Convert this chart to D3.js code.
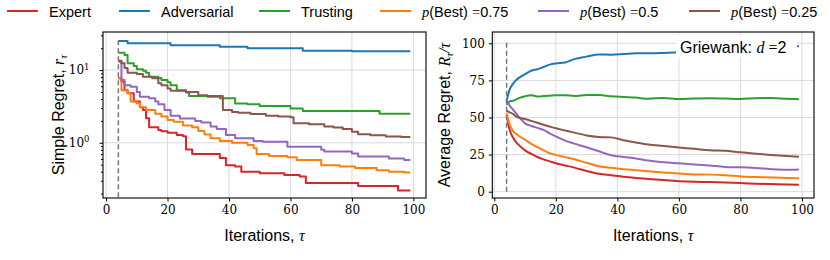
<!DOCTYPE html>
<html><head><meta charset="utf-8">
<script src="https://cdn.jsdelivr.net/npm/d3@7/dist/d3.min.js"></script>
<style>body{margin:0;background:#fff}</style>
</head><body>
<svg id="c" width="830" height="260"></svg>
<script>
// ---------- data ----------
const seriesNames = ["Expert", "Adversarial", "Trusting", "0.75", "0.5", "0.25"];
const seriesColors = ["#d62728", "#1f77b4", "#2ca02c", "#ff7f0e", "#9467bd", "#8c564b"];

// Simple regret (step series): iteration where a new best starts, and its value
const srExpertIt  = [4, 5, 6, 7, 9, 11, 12, 13, 14, 17, 18, 20, 23, 25, 26, 28, 37, 39, 42, 44, 50, 58, 63, 65, 82, 95, 99];
const srExpertVal = [7.7, 6.9, 5.3, 4.8, 3.7, 3.08, 2.82, 2.17, 1.64, 1.5, 1.44, 1.37, 1.28, 1.23, 0.81, 0.70, 0.62, 0.49, 0.47, 0.40, 0.38, 0.36, 0.345, 0.28, 0.255, 0.22, 0.22];
const srAdvIt     = [4, 7, 21, 37, 46, 64, 80, 99];
const srAdvVal    = [25.1, 23.3, 21.9, 21.0, 19.9, 18.5, 18.1, 18.1];
const srTrustIt   = [4, 6, 7, 9, 10, 12, 13, 14, 17, 18, 20, 21, 23, 26, 27, 33, 37, 42, 46, 50, 60, 64, 89, 99];
const srTrustVal  = [17.3, 16.1, 12.4, 11.4, 10.3, 9.8, 9.2, 8.1, 7.8, 7.3, 6.8, 6.2, 5.3, 4.9, 4.4, 4.3, 4.1, 3.48, 3.4, 3.2, 2.97, 2.73, 2.5, 2.5];
const srP75It     = [4, 5, 7, 8, 10, 11, 13, 16, 18, 20, 22, 25, 28, 30, 32, 34, 37, 41, 46, 48, 49, 53, 59, 62, 70, 76, 81, 88, 92, 97, 99];
const srP75Val    = [7.7, 5.3, 4.8, 3.7, 3.5, 3.08, 2.82, 2.5, 2.3, 2.05, 1.95, 1.73, 1.64, 1.45, 1.3, 1.15, 1.06, 1.0, 0.93, 0.84, 0.70, 0.66, 0.63, 0.58, 0.49, 0.47, 0.45, 0.42, 0.40, 0.39, 0.39];
const srP50It     = [4, 5, 6, 8, 10, 11, 14, 16, 17, 19, 21, 24, 29, 31, 34, 36, 39, 42, 48, 51, 59, 70, 71, 80, 82, 92, 97, 99];
const srP50Val    = [13.0, 7.3, 6.2, 5.9, 5.0, 4.3, 4.1, 3.7, 3.4, 2.82, 2.35, 2.15, 2.0, 1.9, 1.68, 1.55, 1.28, 1.15, 1.06, 1.03, 0.88, 0.80, 0.76, 0.715, 0.65, 0.61, 0.58, 0.58];
const srP25It     = [4, 5, 6, 7, 10, 12, 15, 17, 18, 20, 21, 26, 30, 33, 38, 41, 43, 47, 52, 56, 60, 61, 66, 71, 74, 77, 80, 82, 86, 91, 96, 99];
const srP25Val    = [13.4, 12.4, 10.7, 9.2, 8.8, 8.1, 7.7, 6.6, 6.2, 5.6, 5.2, 5.0, 4.5, 4.4, 2.82, 2.65, 2.58, 2.48, 2.36, 2.3, 2.24, 1.85, 1.8, 1.68, 1.62, 1.55, 1.42, 1.31, 1.27, 1.22, 1.2, 1.2];

// Average regret, sampled iterations
const arIter   = [4, 5, 6, 7, 8, 10, 12, 14, 16, 18, 20, 23, 26, 30, 34, 38, 42, 46, 50, 55, 60, 65, 70, 75, 80, 85, 90, 95, 99];
const arExpert = [51.7, 41.5, 36.8, 33.6, 31.4, 27.8, 25.5, 23.4, 21.8, 20.4, 19.2, 17.7, 16.2, 14.0, 12.1, 11.1, 10.1, 9.3, 8.6, 7.8, 7.1, 6.7, 6.5, 6.2, 5.8, 5.4, 5.1, 4.9, 4.7];
const arAdv    = [61, 69, 72.5, 75, 76.7, 79.2, 81.5, 82.5, 84, 85.6, 86.4, 87, 89.3, 91, 92.5, 92.3, 92.7, 93.2, 93.2, 93.5, 93.9, 94.5, 95, 95.5, 96, 96.6, 97.1, 97.6, 98];
const arTrust  = [58.5, 60.8, 61.2, 62, 63, 64.3, 65, 64.2, 64.4, 64.7, 65, 65, 64.5, 65.2, 65.2, 64.3, 63.8, 63.4, 62.6, 63.2, 62.5, 62.8, 63, 62.8, 62.5, 63, 63.1, 62.6, 62.3];
const arP75    = [52.8, 45, 41, 39, 37.5, 35, 32.2, 30, 28, 25.9, 24.8, 23.3, 21.8, 19.5, 17.2, 16.1, 15.2, 14.5, 13.8, 13, 12.2, 11.6, 11.5, 11.1, 10.3, 9.9, 9.6, 9.3, 9.0];
const arP50    = [62, 58, 55.5, 53, 50.5, 46, 44.3, 43, 41.6, 39.3, 37.3, 34.4, 32.4, 29.9, 27.2, 24.6, 23.4, 22.4, 21, 19.8, 19.1, 18.4, 17.6, 16.7, 16.4, 15.9, 15.2, 14.8, 15.0];
const arP25    = [54.4, 53.5, 52.5, 50.8, 49.8, 49, 47.7, 46.4, 45.1, 43.9, 42.7, 41.2, 39.8, 37.9, 36.9, 36.6, 34.7, 33.2, 31.8, 30.8, 29.8, 28.9, 27.9, 27.6, 26.5, 25.6, 24.8, 24.1, 23.6];

const xTicks = [0, 20, 40, 60, 80, 100];
const arTicks = [0, 25, 50, 75, 100];
const srMajor = [1, 10];
const startIter = 4;

// ---------- drawing ----------
const svg = d3.select("#c");
const serif = "'DejaVu Serif', 'Liberation Serif', serif";
const mserif = "'Liberation Serif', 'DejaVu Serif', serif";
const sans = "'Liberation Sans', Arial, sans-serif";

const L = {x0: 103, x1: 426, y0: 32, y1: 198};
const R = {x0: 492.3, x1: 814, y0: 32, y1: 198};

const xL = d3.scaleLinear().domain([-1, 104.1]).range([L.x0, L.x1]);
const yL = d3.scaleLog().domain([0.174, 33.4]).range([L.y1, L.y0]);
const xR = d3.scaleLinear().domain([-0.65, 103.9]).range([R.x0, R.x1]);
const yR = d3.scaleLinear().domain([-4.25, 107.6]).range([R.y1, R.y0]);

function grid(g, x, y, P, yt) {
  g.selectAll(".vg").data(xTicks).join("line")
    .attr("x1", d => x(d)).attr("x2", d => x(d)).attr("y1", P.y0).attr("y2", P.y1)
    .attr("stroke", "#dadada").attr("stroke-width", 1);
  g.selectAll(".hg").data(yt).join("line").attr("class", "hg")
    .attr("x1", P.x0).attr("x2", P.x1).attr("y1", d => y(d)).attr("y2", d => y(d))
    .attr("stroke", "#dadada").attr("stroke-width", 1);
}

const gL = svg.append("g"), gR = svg.append("g");
grid(gL.append("g"), xL, yL, L, srMajor);
grid(gR.append("g"), xR, yR, R, arTicks);

// dashed start lines
gL.append("line").attr("x1", xL(startIter)).attr("x2", xL(startIter))
  .attr("y1", yL(0.178)).attr("y2", yL(25.5))
  .attr("stroke", "#777").attr("stroke-width", 1.5).attr("stroke-dasharray", "5,3");
gR.append("line").attr("x1", xR(startIter)).attr("x2", xR(startIter))
  .attr("y1", yR(0)).attr("y2", yR(101.5))
  .attr("stroke", "#777").attr("stroke-width", 1.5).attr("stroke-dasharray", "5,3");

// simple regret lines
const srIts = [srExpertIt, srAdvIt, srTrustIt, srP75It, srP50It, srP25It];
const srVals = [srExpertVal, srAdvVal, srTrustVal, srP75Val, srP50Val, srP25Val];
const stepLine = d3.line().x(d => xL(d[0])).y(d => yL(d[1])).curve(d3.curveStepAfter);
srIts.forEach((its, i) => {
  const pts = its.map((t, j) => [t, srVals[i][j]]);
  gL.append("path").attr("d", stepLine(pts)).attr("fill", "none")
    .attr("stroke", seriesColors[i]).attr("stroke-width", 2).attr("stroke-linejoin", "round");
});

// average regret lines
const arVals = [arExpert, arAdv, arTrust, arP75, arP50, arP25];
const smoothLine = d3.line().x(d => xR(d[0])).y(d => yR(d[1])).curve(d3.curveMonotoneX);
arVals.forEach((vals, i) => {
  const pts = arIter.map((t, j) => [t, vals[j]]);
  gR.append("path").attr("d", smoothLine(pts)).attr("fill", "none")
    .attr("stroke", seriesColors[i]).attr("stroke-width", 2).attr("stroke-linejoin", "round");
});

// frames
[L, R].forEach(P => svg.append("rect").attr("x", P.x0).attr("y", P.y0)
  .attr("width", P.x1 - P.x0).attr("height", P.y1 - P.y0)
  .attr("fill", "none").attr("stroke", "#000").attr("stroke-width", 1.1));

function styleAxis(g) {
  g.select(".domain").remove();
  g.selectAll(".tick line").attr("stroke", "#000").attr("stroke-width", 1);
  g.selectAll(".tick text").attr("font-family", serif).attr("font-size", 12).attr("fill", "#000");
}

// x axes
[[xL, L], [xR, R]].forEach(([x, P]) => {
  const g = svg.append("g").attr("transform", `translate(0,${P.y1})`)
    .call(d3.axisBottom(x).tickValues(xTicks).tickSize(3.5).tickPadding(4).tickFormat(d3.format("d")));
  styleAxis(g);
});

// left y (log)
const minor = [];
[0.1, 1, 10].forEach(b => { for (let k = 2; k <= 9; k++) { const v = b * k; if (v >= 0.174 && v <= 33.4) minor.push(v); } });
const gYm = svg.append("g").attr("transform", `translate(${L.x0},0)`)
  .call(d3.axisLeft(yL).tickValues(minor).tickSize(2).tickFormat(""));
styleAxis(gYm);
const gY = svg.append("g").attr("transform", `translate(${L.x0},0)`)
  .call(d3.axisLeft(yL).tickValues(srMajor).tickSize(3.5).tickPadding(4).tickFormat(""));
styleAxis(gY);
gY.selectAll(".tick text").each(function(d) {
  const t = d3.select(this);
  t.attr("dx", "-6");
  t.append("tspan").text("10");
  t.append("tspan").attr("font-size", 8.5).attr("dy", "-0.55em").text(String(Math.round(Math.log10(d))));
});

// right y
const gYR = svg.append("g").attr("transform", `translate(${R.x0},0)`)
  .call(d3.axisLeft(yR).tickValues(arTicks).tickSize(3.5).tickPadding(4).tickFormat(d3.format("d")));
styleAxis(gYR);

// axis labels
function xlabel(cx) {
  const t = svg.append("text").attr("x", cx).attr("y", 240.5).attr("text-anchor", "middle")
    .attr("font-family", sans).attr("font-size", 16);
  t.append("tspan").text("Iterations, ");
  t.append("tspan").attr("font-family", mserif).attr("font-style", "italic").text("τ");
}
xlabel((L.x0 + L.x1) / 2);
xlabel((R.x0 + R.x1) / 2);

const yl1 = svg.append("text").attr("transform", `translate(64,115) rotate(-90)`)
  .attr("text-anchor", "middle").attr("font-family", sans).attr("font-size", 16);
yl1.append("tspan").text("Simple Regret, ");
yl1.append("tspan").attr("font-family", mserif).attr("font-style", "italic").text("r");
yl1.append("tspan").attr("font-family", mserif).attr("font-style", "italic").attr("font-size", 11).attr("dy", 3).text("τ");

const yl2 = svg.append("text").attr("transform", `translate(450,115) rotate(-90)`)
  .attr("text-anchor", "middle").attr("font-family", sans).attr("font-size", 16);
yl2.append("tspan").text("Average Regret, ");
yl2.append("tspan").attr("font-family", mserif).attr("font-style", "italic").text("R");
yl2.append("tspan").attr("font-family", mserif).attr("font-style", "italic").attr("font-size", 11).attr("dy", 3).text("τ");
yl2.append("tspan").attr("font-family", mserif).attr("font-style", "italic").attr("dy", -3).text("/τ");

// annotation box
svg.append("rect").attr("x", 676).attr("y", 35).attr("width", 121).attr("height", 23).attr("fill", "#fff");
const ann = svg.append("text").attr("x", 680).attr("y", 53).attr("font-family", sans).attr("font-size", 16);
ann.append("tspan").text("Griewank: ");
ann.append("tspan").attr("font-family", mserif).attr("font-style", "italic").text("d");
ann.append("tspan").attr("font-family", mserif).text(" =");
ann.append("tspan").text("2");

// legend
const legX = [7, 119, 259, 380, 538, 689];
const legend = svg.append("g");
seriesNames.forEach((name, i) => {
  legend.append("line").attr("x1", legX[i]).attr("x2", legX[i] + 31).attr("y1", 11).attr("y2", 11)
    .attr("stroke", seriesColors[i]).attr("stroke-width", 2);
  const t = legend.append("text").attr("x", legX[i] + 42).attr("y", 16.5)
    .attr("font-family", sans).attr("font-size", 14.5);
  if (i < 3) t.text(name);
  else {
    t.append("tspan").attr("font-family", mserif).attr("font-style", "italic").text("p");
    t.append("tspan").text("(Best) ");
    t.append("tspan").attr("font-family", mserif).text("=");
    t.append("tspan").text(name);
  }
});
</script>
</body></html>
